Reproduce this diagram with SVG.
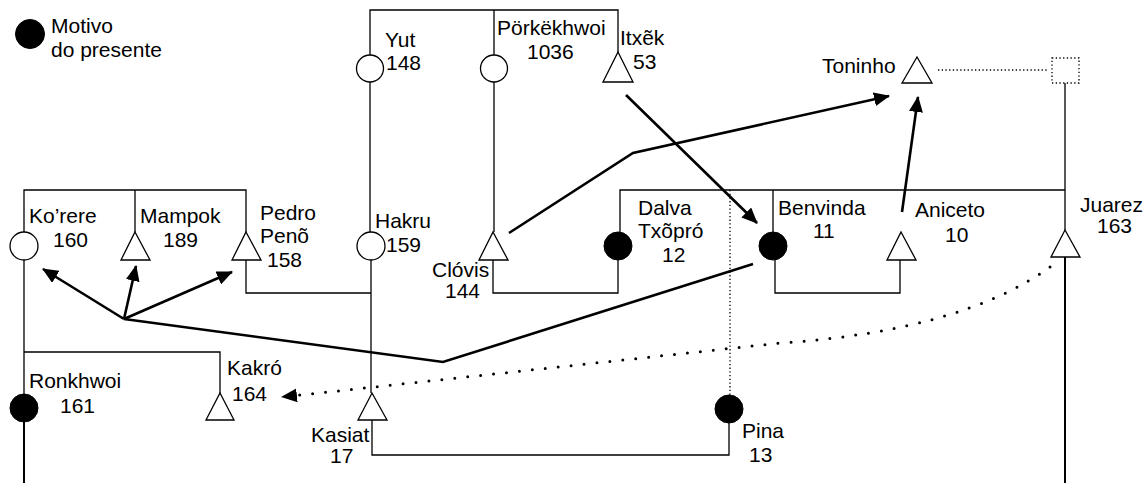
<svg xmlns="http://www.w3.org/2000/svg" width="1145" height="483" viewBox="0 0 1145 483">
<defs>
<style>
text{font-family:"Liberation Sans",Arial,sans-serif;font-size:21px;fill:#000}
.o{fill:#fff;stroke:#000;stroke-width:1.3}
.f{fill:#000;stroke:#000;stroke-width:1}
.k{fill:none;stroke:#000;stroke-width:1.3}
.kt{fill:none;stroke:#000;stroke-width:2}
.fd{fill:none;stroke:#000;stroke-width:1.3;stroke-dasharray:1.3 2.4}
.a{fill:none;stroke:#000;stroke-width:2.6;marker-end:url(#ah)}
.ad{fill:none;stroke:#000;stroke-width:3;stroke-dasharray:0 13;stroke-linecap:round;marker-end:url(#ah)}
</style>
<marker id="ah" markerWidth="16" markerHeight="14" refX="15" refY="7" orient="auto" markerUnits="userSpaceOnUse"><path d="M0,0 L16,7 L0,14 z" fill="#000"/></marker>
</defs>
<rect width="1145" height="483" fill="#fff"/>
<g id="legend"><circle class="f" cx="30" cy="34" r="14.5"/><text x="51" y="33">Motivo</text><text x="51" y="57">do presente</text></g>
<g id="connectors">
<path class="k" d="M370,55 V10 H618 V52 M494,10 V55"/>
<path class="k" d="M370,82 V232 M494,82 V232"/>
<path class="k" d="M24,232 V190 H246 V232 M135,190 V232"/>
<path class="k" d="M246,260 V293 H371"/>
<path class="k" d="M371,260 V393"/>
<path class="k" d="M24,260 V394 M24,352 H220 V393"/>
<path class="kt" d="M24,422 V483"/>
<path class="k" d="M372,420 V455 H729 V423"/>
<path class="k" d="M620,232 V190 H1065 M773,190 V232 M1065,83 V230"/>
<path class="k" d="M618,260 V293 H493 V260"/>
<path class="k" d="M775,260 V293 H900 V260"/>
<path class="kt" d="M1065,257 V483"/>
<path class="fd" d="M730,190 V395"/>
<path class="fd" d="M938,70 H1047"/>
<path class="a" d="M509,233 L633,153 L889,96"/>
<path class="a" d="M626,95 L757,223"/>
<path class="a" d="M902,212 L918,97"/>
<path class="k" style="stroke-width:2.6" d="M753,264 L443,362 L124,319"/>
<path class="a" d="M124,319 L43,269"/>
<path class="a" d="M124,319 L136,266"/>
<path class="a" d="M124,319 L232,272"/>
<path class="ad" d="M1050,267 C990,310 900,335 780,343 L282,397"/>
</g>
<g id="yut"><circle class="o" cx="370" cy="68.5" r="13.5"/><text x="385" y="47">Yut</text><text x="386" y="70">148</text></g>
<g id="porkekhwoi"><circle class="o" cx="494" cy="68.5" r="13.5"/><text x="497" y="35">Pörkëkhwoi</text><text x="527" y="59">1036</text></g>
<g id="itxek"><path class="o" d="M618,52 L633,82 L603,82 Z"/><text x="620" y="45">Itxẽk</text><text x="633" y="69">53</text></g>
<g id="toninho"><path class="o" d="M917,57 L932,83 L902,83 Z"/><text x="822" y="73">Toninho</text></g>
<g id="unknown"><rect class="fd" x="1052" y="58" width="27" height="25"/></g>
<g id="korere"><circle class="o" cx="24" cy="246" r="14"/><text x="29" y="223">Ko’rere</text><text x="53" y="247">160</text></g>
<g id="mampok"><path class="o" d="M135,232 L150,260 L121,260 Z"/><text x="140" y="223">Mampok</text><text x="163" y="247">189</text></g>
<g id="pedro"><path class="o" d="M246,232 L261,260 L232,260 Z"/><text x="260" y="220">Pedro</text><text x="260" y="243">Penõ</text><text x="267" y="267">158</text></g>
<g id="hakru"><circle class="o" cx="371" cy="246" r="14"/><text x="375" y="228">Hakru</text><text x="386" y="252">159</text></g>
<g id="clovis"><path class="o" d="M493,232 L508,260 L479,260 Z"/><text x="432" y="277">Clóvis</text><text x="445" y="298">144</text></g>
<g id="dalva"><circle class="f" cx="618" cy="246" r="14"/><text x="638" y="215">Dalva</text><text x="638" y="238">Txõpró</text><text x="662" y="262">12</text></g>
<g id="benvinda"><circle class="f" cx="773" cy="246" r="14"/><text x="778" y="215">Benvinda</text><text x="813" y="238">11</text></g>
<g id="aniceto"><path class="o" d="M901,232 L916,260 L887,260 Z"/><text x="915" y="217">Aniceto</text><text x="945" y="242">10</text></g>
<g id="juarez"><path class="o" d="M1065,230 L1080,257 L1051,257 Z"/><text x="1080" y="212">Juarez</text><text x="1097" y="233">163</text></g>
<g id="ronkhwoi"><circle class="f" cx="24" cy="408" r="14"/><text x="29" y="388">Ronkhwoi</text><text x="60" y="413">161</text></g>
<g id="kakro"><path class="o" d="M220,393 L234,420 L206,420 Z"/><text x="227" y="375">Kakró</text><text x="232" y="401">164</text></g>
<g id="kasiat"><path class="o" d="M372,393 L387,420 L358,420 Z"/><text x="311" y="442">Kasiat</text><text x="330" y="463">17</text></g>
<g id="pina"><circle class="f" cx="729" cy="409" r="14"/><text x="742" y="438">Pina</text><text x="749" y="462">13</text></g>
</svg>
